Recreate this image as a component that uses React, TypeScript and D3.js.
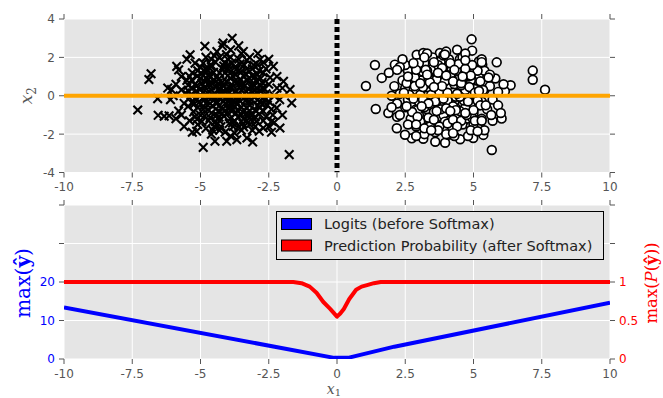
import React from 'react';
import * as d3 from 'd3';

// class 1 samples (crosses)
const crossPts: [number, number][] = [
  [-6.81, 1.15], [-6.89, 0.85], [-7.3, -0.74], [-6.55, -1.02], [-6.33, -1.07], [-6.15, -1.04],
  [-6.57, -0.15], [-6.06, 0.32], [-5.87, 1.53], [-5.38, 2.14], [-4.84, 2.58], [-5.14, -1.85],
  [-4.9, -2.69], [-3.84, 3.0], [-4.17, 2.75], [-3.43, 2.31], [-2.82, 1.88], [-2.33, 1.53],
  [-1.96, 0.75], [-1.72, 0.32], [-1.66, -0.38], [-2.21, -0.64], [-2.09, -1.68], [-2.39, -1.33],
  [-2.7, -1.68], [-3.09, -2.41], [-3.67, -2.29], [-4.04, -2.37], [-4.47, -2.37], [-1.75, -3.07],
  [-4.0, 0.1], [-3.8, -0.3], [-4.3, 0.4], [-3.6, 0.6], [-4.5, -0.2], [-3.9, 0.9], [-4.2, -0.7],
  [-3.4, -0.1], [-4.7, 0.6], [-3.7, -0.9], [-4.1, 1.2], [-3.3, 0.8], [-4.6, -0.9], [-3.5, -0.6],
  [-4.9, 0.2], [-3.1, 0.2], [-4.4, 1.0], [-3.9, -1.2], [-4.8, -0.4], [-3.2, -0.5],
  [-5.0, 0.9], [-3.0, 1.0], [-4.3, -1.3], [-3.6, 1.3], [-5.1, -0.6], [-2.9, -0.2], [-4.0, 1.6],
  [-3.8, -1.6], [-5.3, 0.4], [-2.8, 0.5], [-4.6, 1.5], [-3.3, -1.3], [-5.2, -1.1], [-2.7, -0.8],
  [-4.8, 1.2], [-3.4, 1.6], [-4.5, -1.6], [-3.0, -1.1], [-5.4, -0.1], [-2.6, 0.1],
  [-4.1, -0.4], [-3.7, 0.2], [-4.4, 0.0], [-3.5, 0.3], [-4.2, 0.7], [-3.9, -0.6], [-4.6, 0.3],
  [-3.3, 0.0], [-4.0, -0.9], [-3.8, 0.5], [-4.7, -0.1], [-3.6, -0.2], [-4.3, -0.5], [-3.4, 0.5],
  [-4.9, -0.7], [-3.2, -0.8], [-4.5, 0.8], [-3.1, 0.6], [-5.0, 0.0], [-2.9, -0.5],
  [-4.2, 1.4], [-3.7, 1.1], [-4.8, 0.9], [-3.0, 0.3], [-5.2, 0.6], [-2.8, 0.9], [-4.4, -1.0],
  [-3.5, -1.0], [-5.5, 0.8], [-2.5, -0.3], [-4.0, 1.9], [-3.6, 1.9], [-4.9, 1.7], [-3.1, 1.4],
  [-5.3, 1.2], [-2.7, 1.2], [-4.7, -1.3], [-3.2, -1.5], [-5.6, -0.4], [-2.5, 0.6],
  [-4.1, -1.9], [-3.5, -1.8], [-4.6, -2.0], [-3.0, -1.6], [-5.4, -1.3], [-2.6, -1.1], [-5.7, 0.3],
  [-2.4, -0.7], [-4.3, 2.0], [-3.2, 2.0], [-5.0, 1.5], [-2.9, 1.6], [-5.8, -0.8], [-2.3, 0.0],
  [-5.9, 0.6], [-2.2, 0.4], [-4.4, 2.3], [-3.9, 2.4], [-3.5, 2.2], [-4.6, 1.9],
  [-5.6, -1.6], [-5.9, -1.2], [-2.5, -1.6], [-2.4, -1.9], [-3.3, -2.2], [-3.9, -2.1], [-5.3, -1.9],
  [-6.1, -0.2], [-6.2, 0.4], [-5.7, 1.0], [-5.5, 1.9], [-4.2, 2.6], [-3.6, 2.6], [-2.9, 2.2],
  [-2.6, 1.4], [-2.2, 1.0], [-2.0, 0.4], [-2.1, -0.2], [-2.0, -1.0], [-2.3, -1.4],
  [-4.05, 0.35], [-3.85, 0.05], [-4.25, -0.15], [-3.65, -0.45], [-4.35, 0.65], [-3.55, 0.85],
  [-4.15, -1.05], [-3.95, 1.35], [-4.55, -0.55], [-3.45, -0.85], [-4.75, 0.15], [-3.25, 0.35],
  [-4.85, -1.05], [-3.15, -1.25], [-4.95, 1.15], [-3.05, -0.05], [-5.15, 0.25], [-2.95, 0.75],
  [-5.05, -0.35], [-2.85, -0.95],
  [-5.25, -0.85], [-5.35, 0.05], [-5.45, 0.55], [-5.1, 1.3], [-4.95, -1.35], [-4.65, -1.15],
  [-4.45, -1.35], [-4.25, -1.6], [-3.95, -1.45], [-3.75, -1.3], [-3.45, -1.45], [-3.25, -1.05],
  [-2.95, -1.35], [-2.75, -0.45], [-2.65, 0.35], [-2.75, 0.7], [-2.85, 1.3], [-3.05, 1.6],
  [-3.35, 1.15], [-3.55, 1.65], [-3.85, 1.7], [-4.15, 1.55], [-4.45, 1.75], [-4.75, 1.35],
  [-4.85, 0.45], [-4.65, 0.95], [-4.35, 0.85], [-4.05, 0.75], [-3.75, 0.75], [-3.45, 0.65],
  [-3.15, 0.45], [-3.35, -0.25], [-3.65, -0.05], [-3.95, -0.25], [-4.25, 0.15], [-4.55, 0.05],
  [-4.85, -0.2], [-5.2, -0.15], [-5.0, -1.0], [-4.4, -0.3], [-4.1, -0.15], [-3.75, -0.55],
  [-3.5, -0.05], [-3.2, -0.3], [-2.95, 0.15], [-3.0, -0.75], [-3.3, -0.9], [-3.65, -0.75],
  [-4.0, -0.65], [-4.35, -0.8], [-4.65, -0.4], [-4.9, -0.55], [-5.15, 0.5], [-4.95, 0.65],
  [-4.6, 0.7], [-4.3, 1.2], [-4.0, 1.05], [-3.7, 1.35], [-3.3, 1.4], [-3.1, 1.05],
  [-2.8, 0.25], [-2.55, -0.5], [-2.7, -1.3], [-3.1, -1.8], [-3.6, -1.6], [-4.3, -1.8],
  [-4.8, -1.7], [-5.1, -1.5], [-5.45, -0.55], [-5.55, 0.15], [-5.4, 1.0], [-5.2, 1.7],
  [-4.8, 2.0], [-4.05, 2.15], [-3.3, 1.85], [-2.7, 1.75], [-2.45, 0.95], [-2.35, -1.0],
  [-2.85, -1.85], [-3.75, -1.95], [-4.55, -1.8], [-5.7, -1.0], [-5.8, 1.35], [-6.0, 0.0],
  [-3.95, 0.15], [-4.15, 0.5], [-3.6, 0.1], [-3.85, -0.8], [-4.45, 0.45], [-3.4, 1.0],
  [-4.7, 1.1], [-5.3, -0.4], [-2.6, -0.15], [-3.9, 2.0], [-4.5, 2.1], [-2.5, 1.9],
  [-4.12, 0.22], [-3.72, -0.12], [-4.42, -0.42], [-3.52, 0.52], [-4.62, 0.52], [-3.82, 1.02],
  [-4.22, -0.92], [-3.32, -0.62], [-4.82, 0.72], [-3.62, -1.12], [-4.02, 1.42], [-3.22, 0.92],
  [-4.72, -0.72], [-3.42, -1.22], [-5.02, 0.32], [-3.02, 0.52], [-4.52, 1.22], [-3.92, -0.42],
  [-4.92, -0.12], [-3.12, -0.22], [-5.12, 1.02], [-2.92, 1.12], [-4.32, -1.12], [-3.72, 1.52],
  [-5.22, -0.42], [-2.82, -0.32], [-4.12, 1.72], [-3.82, -1.42], [-5.32, 0.82], [-2.72, 0.42],
  [-4.62, 1.62], [-3.42, -1.62], [-5.12, -1.22], [-2.82, -0.62], [-4.82, 1.42], [-3.52, 1.22],
  [-4.42, -1.52], [-3.12, -1.02], [-5.42, 0.22], [-2.72, -0.12], [-4.22, 0.02], [-3.62, 0.72],
  [-4.02, -0.12], [-3.92, 0.42], [-4.32, 0.32], [-3.72, -0.32], [-4.52, -0.02], [-3.32, 0.22],
];

// class 2 samples (circles)
const circlePts: [number, number][] = [
  [4.93, 2.94], [4.95, 2.35], [1.06, 0.51], [1.42, -0.69], [1.39, 1.6], [5.67, -2.83],
  [7.17, 1.31], [7.17, 0.83], [7.62, 0.31], [5.85, 1.74], [5.32, 1.62], [6.36, 0.55],
  [6.15, 0.23], [6.03, -1.19], [5.36, -2.04], [3.96, -2.45], [4.51, -2.27], [3.16, -2.24],
  [2.74, -2.22], [2.19, -1.69], [2.49, -2.03], [1.88, -0.9], [4.08, -2.03], [4.99, -2.2],
  [1.64, 0.93], [2.12, 1.62], [2.92, 2.14], [3.16, 2.23], [3.77, 2.23],
  [4.0, 0.0], [3.8, 0.4], [4.3, -0.3], [3.6, -0.6], [4.5, 0.5], [3.9, -1.0], [4.2, 0.9],
  [3.4, 0.2], [4.7, -0.6], [3.7, 1.0], [4.1, -1.3], [3.3, -0.7], [4.6, 1.2], [3.5, 1.4],
  [4.9, 0.1], [3.1, -0.1], [4.4, -1.0], [3.9, 1.5], [4.8, -0.2], [3.2, 0.6],
  [5.0, -0.9], [3.0, -1.0], [4.3, 1.6], [3.6, -1.4], [5.1, 0.7], [2.9, 0.3], [4.0, -1.7],
  [3.8, 1.8], [5.3, -0.3], [2.8, -0.5], [4.6, -1.5], [3.3, 1.3], [5.2, 1.1], [2.7, 0.9],
  [4.8, -1.2], [3.4, -1.6], [4.5, 1.9], [3.0, 1.2], [5.4, 0.3], [2.6, -0.2],
  [4.1, 0.4], [3.7, -0.2], [4.4, 0.1], [3.5, -0.3], [4.2, -0.6], [3.9, 0.7], [4.6, -0.1],
  [3.3, 0.0], [4.0, 1.1], [3.8, -0.7], [4.7, 0.3], [3.6, 0.3], [4.3, 0.6], [3.4, -0.5],
  [4.9, 0.8], [3.2, -0.6], [4.5, -0.8], [3.1, 0.8], [5.0, 0.4], [2.9, -0.7],
  [4.2, -1.6], [3.7, 1.6], [4.8, 1.0], [3.0, -0.3], [5.2, -0.5], [2.8, 1.0], [4.4, 1.3],
  [3.5, 0.9], [5.5, -0.7], [2.5, 0.4], [4.0, -2.0], [3.6, -1.9], [4.9, -1.6], [3.1, -1.4],
  [5.3, -1.2], [2.7, -1.2], [4.7, 1.5], [3.2, 1.7], [5.6, 0.5], [2.5, -0.6],
  [4.1, 1.9], [3.5, 2.0], [4.6, 2.0], [3.0, 1.7], [5.4, 1.3], [2.6, 1.3], [5.7, -0.2],
  [2.4, 0.8], [4.3, -2.1], [3.2, -2.0], [5.0, -1.5], [2.9, -1.6], [5.8, 0.9], [2.3, 0.1],
  [5.9, -0.5], [2.2, -0.4], [4.4, 2.4], [4.7, 2.2], [5.2, 1.8], [4.0, 2.3],
  [5.6, 1.1], [5.9, 0.2], [2.5, 1.6], [2.4, 1.9], [3.3, 2.2], [3.9, 2.1], [5.3, 1.9],
  [6.0, -0.9], [5.7, -1.3], [5.4, -1.8], [4.8, -2.1], [3.6, -2.4], [2.9, -2.1], [2.6, -1.5],
  [2.2, -1.1], [2.0, -0.6], [2.1, 0.5], [1.9, 1.2], [2.3, 1.5], [6.1, 0.6],
  [4.05, -0.35], [3.85, -0.05], [4.25, 0.15], [3.65, 0.45], [4.35, -0.65], [3.55, -0.85],
  [4.15, 1.05], [3.95, -1.35], [4.55, 0.55], [3.45, 0.85], [4.75, -0.15], [3.25, -0.35],
  [4.85, 1.05], [3.15, 1.25], [4.95, -1.15], [3.05, 0.05], [5.15, -0.25], [2.95, -0.75],
  [5.05, 0.35], [2.85, 0.95],
  [2.75, -0.85], [2.65, 0.05], [2.55, 0.65], [2.9, 1.35], [3.05, -1.35], [3.35, -1.15],
  [3.55, -1.25], [3.75, -1.6], [4.05, -1.45], [4.25, -1.25], [4.55, -1.3], [4.75, -1.0],
  [5.05, -1.3], [5.25, -0.5], [5.35, 0.3], [5.25, 0.75], [5.15, 1.3], [4.95, 1.6],
  [4.65, 1.1], [4.45, 1.65], [4.15, 1.7], [3.85, 1.45], [3.55, 1.75], [3.25, 1.35],
  [3.15, 0.45], [3.35, 0.95], [3.65, 0.85], [3.95, 0.75], [4.25, 0.75], [4.55, 0.65],
  [4.85, 0.45], [4.65, -0.25], [4.35, -0.05], [4.05, -0.25], [3.75, 0.15], [3.45, 0.05],
  [3.15, -0.2], [2.8, -0.15], [2.95, -1.1], [3.6, -0.3], [3.9, -0.15], [4.25, -0.55],
  [4.5, -0.05], [4.8, -0.3], [5.05, 0.15], [5.0, -0.75], [4.7, -0.9], [4.35, -0.75],
  [4.0, -0.65], [3.65, -0.8], [3.35, -0.4], [3.1, -0.55], [2.85, 0.5], [3.05, 0.65],
  [3.4, 0.7], [3.7, 1.2], [4.0, 1.05], [4.3, 1.35], [4.7, 1.4], [4.9, 1.05],
  [5.2, 0.25], [5.45, -0.5], [5.3, -1.3], [4.9, -1.8], [4.4, -1.6], [3.7, -1.8],
  [3.2, -1.7], [2.9, -1.5], [2.55, -0.55], [2.45, 0.15], [2.6, 1.0], [2.8, 1.7],
  [3.2, 2.0], [3.95, 2.15], [4.7, 1.85], [5.3, 1.75], [5.55, 0.95], [5.65, -1.0],
  [5.15, -1.85], [4.25, -1.95], [3.45, -1.8], [2.3, -1.0], [2.2, 1.35], [2.0, 0.0],
  [4.05, 0.15], [3.85, 0.5], [4.4, 0.1], [4.15, -0.8], [3.55, 0.45], [4.6, 1.0], [3.3, 1.1],
];

const xTicks = [-10, -7.5, -5, -2.5, 0, 2.5, 5, 7.5, 10];
const xTickLabels = ['-10', '-7.5', '-5', '-2.5', '0', '2.5', '5', '7.5', '10'];
const x2Ticks = [-4, -2, 0, 2, 4];
const x2TickLabels = ['-4', '-2', '0', '2', '4'];
const logitTicks = [0, 10, 20, 30, 40];
const logitTickLabels = ['0', '10', '20', '', ''];
const probTicks = [0, 0.5, 1, 1.5, 2];
const probTickLabels = ['0', '0.5', '1', '', ''];

// bottom panel curves
const logitX = [-10, -0.1, 0.4, 2.1, 10];
const logitY = [13.4, 0.3, 0.3, 3.2, 14.6];
const probX = [-10, -1.6, -1.3, -1.0, -0.75, -0.5, -0.25, 0, 0.12, 0.25, 0.45, 0.7, 0.9, 1.1, 1.35, 1.6, 10];
const probY = [1, 1, 0.985, 0.94, 0.86, 0.74, 0.65, 0.55, 0.59, 0.65, 0.78, 0.9, 0.94, 0.96, 0.985, 1, 1];

const legendLabels = ['Logits (before Softmax)', 'Prediction Probability (after Softmax)'];

const W = 663;
const H = 398;
const L = 64, R = 610;
const top1 = 19, bot1 = 172.5;
const top2 = 205, bot2 = 359;
const tickCol = '#555555';
const bg = '#e5e5e5';

const App: React.FC = () => {
  const x = d3.scaleLinear().domain([-10, 10]).range([L, R]);
  const y1 = d3.scaleLinear().domain([-4, 4]).range([bot1, top1]);
  const yL = d3.scaleLinear().domain([0, 40]).range([bot2, top2]);
  const yR = d3.scaleLinear().domain([0, 2]).range([bot2, top2]);

  const logitLine = d3.line<number>().x((d, i) => x(logitX[i])).y(d => yL(d));
  const probLine = d3.line<number>().x((d, i) => x(probX[i])).y(d => yR(d));

  const sans = 'DejaVu Sans, sans-serif';
  const serif = 'DejaVu Serif, serif';

  const xAxis = (t: number, b: number) => (
    <g>
      {xTicks.map((v, i) => (
        <g key={i}>
          <line x1={x(v)} x2={x(v)} y1={t - 5} y2={t} stroke={tickCol} />
          <line x1={x(v)} x2={x(v)} y1={b} y2={b + 5} stroke={tickCol} />
          <text x={x(v)} y={b + 18.5} textAnchor="middle" fontSize={12} fontFamily={sans} fill={tickCol}>
            {xTickLabels[i]}
          </text>
        </g>
      ))}
    </g>
  );

  return (
    <svg width={W} height={H} style={{ position: 'absolute', left: 0, top: 0 }}>
      <defs>
        <clipPath id="c1"><rect x={L} y={top1} width={R - L} height={bot1 - top1} /></clipPath>
        <clipPath id="c2"><rect x={L} y={top2} width={R - L} height={bot2 - top2} /></clipPath>
      </defs>
      <rect width={W} height={H} fill="#ffffff" />

      {/* top panel */}
      <rect x={L} y={top1} width={R - L} height={bot1 - top1} fill={bg} />
      {xTicks.map((v, i) => (
        <line key={'g1x' + i} x1={x(v)} x2={x(v)} y1={top1} y2={bot1} stroke="#fff" strokeWidth={1} />
      ))}
      {x2Ticks.map((v, i) => (
        <line key={'g1y' + i} x1={L} x2={R} y1={y1(v)} y2={y1(v)} stroke="#fff" strokeWidth={1} />
      ))}
      <g clipPath="url(#c1)">
        {crossPts.map((p, i) => (
          <path key={'x' + i} transform={`translate(${x(p[0])},${y1(p[1])})`}
            d="M-4.3,-4.3L4.3,4.3M-4.3,4.3L4.3,-4.3" stroke="#000" strokeWidth={2.1} fill="none" />
        ))}
        {circlePts.map((p, i) => (
          <circle key={'o' + i} cx={x(p[0])} cy={y1(p[1])} r={4.4} fill="#fff" stroke="#000" strokeWidth={1.7} />
        ))}
        <line x1={x(0)} x2={x(0)} y1={top1} y2={bot1} stroke="#000" strokeWidth={5} strokeDasharray="5,3" />
        <line x1={L} x2={R} y1={y1(0)} y2={y1(0)} stroke="#ffa500" strokeWidth={4} />
      </g>
      {xAxis(top1, bot1)}
      {x2Ticks.map((v, i) => (
        <g key={'t1y' + i}>
          <line x1={L - 5} x2={L} y1={y1(v)} y2={y1(v)} stroke={tickCol} />
          <line x1={R} x2={R + 5} y1={y1(v)} y2={y1(v)} stroke={tickCol} />
          <text x={L - 9} y={y1(v) + 4.4} textAnchor="end" fontSize={12} fontFamily={sans} fill={tickCol}>
            {x2TickLabels[i]}
          </text>
        </g>
      ))}
      <text transform={`translate(32,${(top1 + bot1) / 2}) rotate(-90)`} textAnchor="middle"
        fontFamily={serif} fontSize={17} fontStyle="italic" fill={tickCol}>
        x<tspan fontSize={12} dy={4} fontStyle="normal">2</tspan>
      </text>

      {/* bottom panel */}
      <rect x={L} y={top2} width={R - L} height={bot2 - top2} fill={bg} />
      {xTicks.map((v, i) => (
        <line key={'g2x' + i} x1={x(v)} x2={x(v)} y1={top2} y2={bot2} stroke="#fff" strokeWidth={1} />
      ))}
      {logitTicks.map((v, i) => (
        <line key={'g2y' + i} x1={L} x2={R} y1={yL(v)} y2={yL(v)} stroke="#fff" strokeWidth={1} />
      ))}
      <g clipPath="url(#c2)">
        <path d={logitLine(logitY) || ''} fill="none" stroke="#0000ff" strokeWidth={4} strokeLinejoin="round" />
        <path d={probLine(probY) || ''} fill="none" stroke="#ff0000" strokeWidth={4} strokeLinejoin="round" />
      </g>
      {xAxis(top2, bot2)}
      {logitTicks.map((v, i) => (
        <g key={'t2l' + i}>
          <line x1={L - 5} x2={L} y1={yL(v)} y2={yL(v)} stroke={tickCol} />
          <text x={L - 9} y={yL(v) + 4.4} textAnchor="end" fontSize={12} fontFamily={sans} fill="#0000ff">
            {logitTickLabels[i]}
          </text>
        </g>
      ))}
      {probTicks.map((v, i) => (
        <g key={'t2r' + i}>
          <line x1={R} x2={R + 5} y1={yR(v)} y2={yR(v)} stroke={tickCol} />
          <text x={R + 9} y={yR(v) + 4.4} textAnchor="start" fontSize={12} fontFamily={sans} fill="#ff0000">
            {probTickLabels[i]}
          </text>
        </g>
      ))}
      <text transform={`translate(30,283) rotate(-90)`} textAnchor="middle"
        fontFamily={serif} fontSize={20} fill="#0000ff" textLength={70} lengthAdjust="spacingAndGlyphs">
        max(<tspan fontWeight="bold">ŷ</tspan>)
      </text>
      <text transform={`translate(657,283) rotate(-90)`} textAnchor="middle"
        fontFamily={serif} fontSize={16} fill="#ff0000" textLength={81} lengthAdjust="spacingAndGlyphs">
        max(<tspan fontStyle="italic">P</tspan>(<tspan fontWeight="bold">ŷ</tspan>))
      </text>
      <text x={x(0) - 3} y={393.5} textAnchor="middle" fontFamily={serif} fontSize={14} fontStyle="italic" fill={tickCol}>
        x<tspan fontSize={10} dy={2.5} fontStyle="normal">1</tspan>
      </text>

      {/* legend */}
      <rect x={276.5} y={211.5} width={327} height={48} fill={bg} stroke="#000" strokeWidth={1} />
      {legendLabels.map((s, i) => (
        <g key={'lg' + i}>
          <rect x={281.5} y={218.5 + i * 21.5} width={30} height={11}
            fill={i === 0 ? '#0000ff' : '#ff0000'} stroke="#000" strokeWidth={1} />
          <text x={324} y={229 + i * 21.5} fontFamily={sans} fontSize={14.5} fill="#222">{s}</text>
        </g>
      ))}
    </svg>
  );
};

export default App;
